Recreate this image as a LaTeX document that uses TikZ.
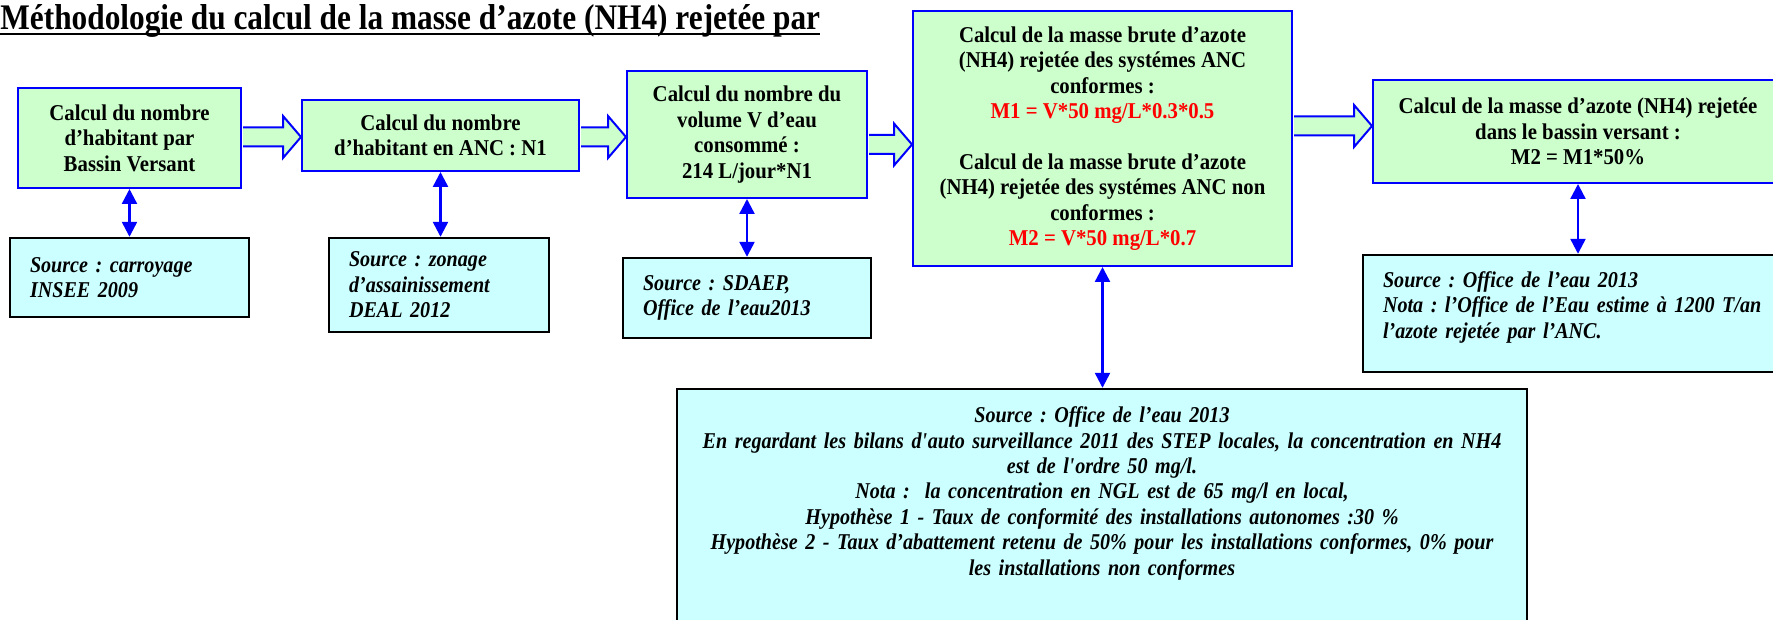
\documentclass[tikz,border=0pt]{standalone}
\usepackage{fontspec}
\setmainfont[FakeStretch=0.92]{Liberation Serif}
\newfontfamily\titlefont[FakeStretch=0.87]{Liberation Serif}
\newfontfamily\srcfont[FakeStretch=0.89]{Liberation Serif}
\usetikzlibrary{arrows.meta,calc}

\definecolor{calcgreen}{RGB}{204,255,204}
\definecolor{srccyan}{RGB}{204,255,255}
\newcommand{\boxsize}{\fontsize{11.3pt}{12.7pt}\selectfont}
\frenchspacing

\begin{document}
\begin{tikzpicture}[x=0.5pt,y=-0.5pt,
    calcbox/.style={draw=blue,line width=1pt,fill=calcgreen,align=center,
      font=\boxsize\bfseries,inner sep=2pt},
    srcbox/.style={draw=black,line width=1.2pt,fill=srccyan,align=left,
      font=\srcfont\boxsize\bfseries\itshape,inner xsep=10pt},
    fatarrow/.style={draw=blue,line width=1pt,fill=calcgreen},
    link/.style={draw=blue,line width=1.2pt,
      {Triangle[width=7.5pt,length=7.5pt]}-{Triangle[width=7.5pt,length=7.5pt]}}]
  \useasboundingbox (0,0) rectangle (1773,620);

  % title
  \node[anchor=base west,inner sep=0pt,
    font=\titlefont\bfseries\fontsize{18pt}{21pt}\selectfont] (title) at (0,30)
    {Méthodologie du calcul de la masse d’azote (NH4) rejetée par};
  \draw[line width=1pt] ([yshift=-2pt]title.base west) -- ([yshift=-2pt]title.base east);

  % calculation chain
  \node[calcbox,minimum width=111.5pt,minimum height=50pt] (calc1) at (129.5,138)
    {Calcul du nombre\\d’habitant par\\Bassin Versant};
  \node[calcbox,minimum width=138.5pt,minimum height=35.5pt] (calc2) at (440.5,135.5)
    {Calcul du nombre\\d’habitant en ANC : N1};
  \node[calcbox,minimum width=120pt,minimum height=63.5pt] (calc3) at (747,134.5)
    {Calcul du nombre du\\volume V d’eau\\consommé :\\214 L/jour*N1};
  \node[calcbox,minimum width=189.5pt,minimum height=127.5pt] (calc4) at (1102.5,138.5)
    {Calcul de la masse brute d’azote\\(NH4) rejetée des systémes ANC\\conformes :\\
     {\color{red}M1 = V*50 mg/L*0.3*0.5}\\[12.7pt]
     Calcul de la masse brute d’azote\\(NH4) rejetée des systémes ANC non\\conformes :\\
     {\color{red}M2 = V*50 mg/L*0.7}};
  \node[calcbox,minimum width=205pt,minimum height=51.5pt] (calc5) at (1578,131.5)
    {Calcul de la masse d’azote (NH4) rejetée\\dans le bassin versant :\\M2 = M1*50\%};

  % sources
  \node[srcbox,text width=99.5pt,minimum height=39.5pt] (src1) at (129.5,277.5)
    {Source : carroyage\\INSEE 2009};
  \node[srcbox,text width=90pt,minimum height=47pt] (src2) at (439,285)
    {Source : zonage\\d’assainissement\\DEAL 2012};
  \node[srcbox,text width=104pt,minimum height=40pt] (src3) at (747,298)
    {Source : SDAEP,\\Office de l’eau2013};
  \node[srcbox,align=center,text width=417pt,inner xsep=4pt,minimum height=118pt] (src4) at (1102,507)
    {Source : Office de l’eau 2013\\
     En regardant les bilans d\textquotesingle auto surveillance 2011 des STEP locales, la concentration en NH4\\
     est de l\textquotesingle ordre 50 mg/l.\\
     Nota :\ \ la concentration en NGL est de 65 mg/l en local,\\
     Hypothèse 1 - Taux de conformité des installations autonomes :30 \%\\
     Hypothèse 2 - Taux d’abattement retenu de 50\% pour les installations conformes, 0\% pour\\
     les installations non conformes\\[3.3pt]\mbox{}};
  \node[srcbox,text width=200pt,minimum height=58.5pt] (src5) at (1583,313.5)
    {Source : Office de l’eau 2013\\Nota : l’Office de l’Eau estime à 1200 T/an\\
     l’azote rejetée par l’ANC.\\[-4pt]\mbox{}};

  % hollow arrows between the steps
  \foreach \from/\to/\ylev in {calc1/calc2/137,calc2/calc3/137,calc3/calc4/144.5,calc4/calc5/126}{
    \coordinate (lev) at (0,\ylev);
    \draw[fatarrow] let \p1=(\from.east |- lev), \p2=(\to.west |- lev) in
      ($(\p1)+(1,-9.5)$) -- ($(\p2)+(-18,-9.5)$) -- ($(\p2)+(-18,-21)$) -- (\p2)
      -- ($(\p2)+(-18,21)$) -- ($(\p2)+(-18,9.5)$) -- ($(\p1)+(1,9.5)$);
  }

  % links to the sources
  \foreach \n in {1,...,5}
    \draw[link] (calc\n.south) -- (calc\n.south |- src\n.north);
\end{tikzpicture}
\end{document}
